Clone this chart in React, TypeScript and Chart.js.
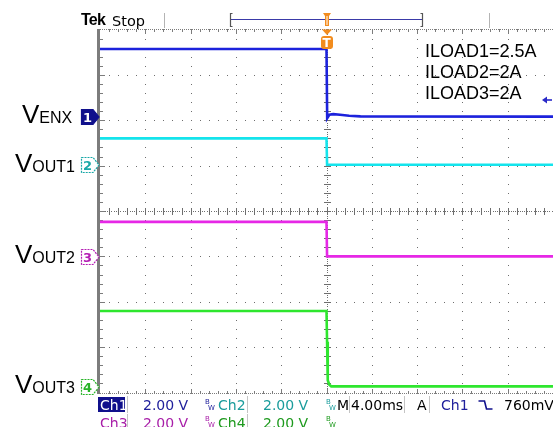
import React, { useEffect, useRef } from "react";
import { Chart, registerables } from "chart.js";

Chart.register(...registerables);

// ---- scope settings ----
const msPerDiv = 4;
const divsX = 10;
const divsY = 8;
const voltsPerDiv = 2;
const timeMin = -(divsX / 2) * msPerDiv;
const timeMax = (divsX / 2) * msPerDiv;

// channel ground levels (divisions above bottom of screen)
const ch1Ground = 6.07;
const ch2Ground = 5.0;
const ch3Ground = 3.0;
const ch4Ground = 0.12;

// ---- waveform data (time in ms, value in volts) ----
const ch1Time = [-20, 0, 0.06, 0.25, 0.6, 1.2, 2.0, 3.0, 20];
const ch1Volts = [3.0, 3.0, -0.05, 0.1, 0.13, 0.1, 0.06, 0.03, 0.02];

const ch2Time = [-20, 0, 0.05, 20];
const ch2Volts = [1.2, 1.2, 0.04, 0.04];

const ch3Time = [-20, 0, 0.05, 20];
const ch3Volts = [1.52, 1.52, 0.0, 0.0];

const ch4Time = [-20, 0, 0.05, 0.11, 0.25, 0.42, 20];
const ch4Volts = [3.35, 3.35, 2.0, 0.3, 0.1, 0.03, 0.03];

const loadLabels = ["ILOAD1=2.5A", "ILOAD2=2A", "ILOAD3=2A"];

const CH1 = "#1c22dc";
const CH2 = "#14e4ec";
const CH3 = "#e628e6";
const CH4 = "#2ee62e";

const W = 553;
const H = 427;
const SANS = '"Liberation Sans", Arial, sans-serif';
const DJ = '"DejaVu Sans", sans-serif';

const graticule = {
  id: "graticule",
  beforeDatasetsDraw(chart: any) {
    const { ctx, chartArea: a, scales } = chart;
    const xs = scales.x;
    const minorX = (a.right - a.left) / (divsX * 5);
    const minorY = (a.bottom - a.top) / (divsY * 5);
    ctx.save();
    ctx.fillStyle = "#6e6e6e";
    // vertical major lines (dotted)
    for (let i = 1; i < divsX; i++) {
      const X = Math.round(xs.getPixelForValue(timeMin + i * msPerDiv));
      if (i === divsX / 2) {
        for (let yy = a.top; yy < a.bottom; yy += 2.27) ctx.fillRect(X, Math.round(yy), 1, 1);
        for (let j = 1; j < divsY * 5; j++) {
          const Y = Math.round(a.top + j * minorY);
          ctx.fillRect(X - 3, Y, 7, 1);
        }
      } else {
        for (let j = 1; j < divsY * 5; j++) {
          const Y = Math.round(a.top + j * minorY);
          ctx.fillRect(X, Y, 1, 1);
        }
      }
    }
    // horizontal major lines
    for (let i = 1; i < divsY; i++) {
      const Y = Math.round(a.top + i * (a.bottom - a.top) / divsY);
      if (i === divsY / 2) {
        for (let xx = a.left; xx < a.right; xx += 2.27) ctx.fillRect(Math.round(xx), Y, 1, 1);
        for (let j = 1; j < divsX * 5; j++) {
          const X = Math.round(a.left + j * minorX);
          ctx.fillRect(X, Y - 3, 1, 7);
        }
      } else {
        for (let j = 1; j < divsX * 5; j++) {
          const X = Math.round(a.left + j * minorX);
          ctx.fillRect(X, Y, 1, 1);
        }
      }
    }
    // borders
    ctx.fillStyle = "#7c7c7c";
    ctx.fillRect(Math.round(a.left) - 3, Math.round(a.top) - 1, 3, Math.round(a.bottom - a.top) + 2);
    const T = Math.round(a.top);
    const B = Math.round(a.bottom);
    for (let xx = a.left; xx < a.right; xx += 2) {
      ctx.fillRect(Math.round(xx), T - 1, 1, 1);
      ctx.fillRect(Math.round(xx), B, 1, 1);
    }
    for (let j = 1; j < divsX * 5; j++) {
      const X = Math.round(a.left + j * minorX);
      const len = j % 5 === 0 ? 5 : 3;
      ctx.fillRect(X, T - 1, 1, len);
      ctx.fillRect(X, B - len + 1, 1, len);
    }
    for (let j = 1; j < divsY * 5; j++) {
      const Y = Math.round(a.top + j * minorY);
      const len = j % 5 === 0 ? 5 : 3;
      ctx.fillRect(Math.round(a.left), Y, len, 1);
    }
    ctx.restore();
  },
};

function toPoints(times: number[], volts: number[], ground: number) {
  return times.map((t, i) => ({ x: t, y: ground + volts[i] / voltsPerDiv }));
}

function Txt(props: {
  x: number;
  base: number;
  size: number;
  color?: string;
  family?: string;
  weight?: any;
  children: any;
  style?: any;
}) {
  const { x, base, size, color = "#000", family = SANS, weight = "normal", children, style = {} } = props;
  return (
    <div
      style={{
        position: "absolute",
        left: x,
        top: base - 0.8465 * size,
        fontSize: size,
        lineHeight: `${size}px`,
        fontFamily: family,
        fontWeight: weight,
        color,
        whiteSpace: "nowrap",
        ...style,
      }}
    >
      {children}
    </div>
  );
}

function ChanLabel(props: { x: number; base: number; sub: string }) {
  return (
    <Txt x={props.x} base={props.base} size={26}>
      V<span style={{ fontSize: 16 }}>{props.sub}</span>
    </Txt>
  );
}

function Marker(props: { cy: number; n: string; color: string; filled?: boolean }) {
  const { cy, n, color, filled } = props;
  const pts = `81.5,${cy - 7.5} 93,${cy - 7.5} 99,${cy} 93,${cy + 7.5} 81.5,${cy + 7.5}`;
  return (
    <svg style={{ position: "absolute", left: 0, top: 0 }} width={W} height={H}>
      <polygon
        points={pts}
        fill={filled ? color : "#fff"}
        stroke={color}
        strokeWidth={1.2}
        strokeDasharray={filled ? undefined : "2 1"}
      />
      <text
        x={87.5}
        y={cy + 5}
        textAnchor="middle"
        fontFamily={DJ}
        fontWeight="bold"
        fontSize={13}
        fill={filled ? "#fff" : color}
      >
        {n}
      </text>
    </svg>
  );
}

function BW(props: { x: number; top: number; color: string }) {
  return (
    <div style={{ position: "absolute", left: props.x, top: props.top, width: 10, height: 14, color: props.color, fontFamily: DJ, fontSize: 7, lineHeight: "7px" }}>
      <div style={{ position: "absolute", left: 0, top: 1 }}>B</div>
      <div style={{ position: "absolute", left: 3, top: 7 }}>W</div>
    </div>
  );
}

export default function App() {
  const ref = useRef<HTMLCanvasElement | null>(null);

  useEffect(() => {
    document.body.style.margin = "0";
    const canvas = ref.current;
    if (!canvas) return;
    const mk = (data: any, color: string) => ({
      data,
      borderColor: color,
      borderWidth: 2.6,
      pointRadius: 0,
      tension: 0,
      fill: false,
    });
    const chart = new Chart(canvas, {
      type: "line",
      data: {
        datasets: [
          mk(toPoints(ch4Time, ch4Volts, ch4Ground), CH4),
          mk(toPoints(ch3Time, ch3Volts, ch3Ground), CH3),
          mk(toPoints(ch2Time, ch2Volts, ch2Ground), CH2),
          mk(toPoints(ch1Time, ch1Volts, ch1Ground), CH1),
        ],
      },
      options: {
        responsive: false,
        animation: false,
        devicePixelRatio: 1,
        layout: { padding: { left: 100, top: 29.5, right: 0, bottom: 34.5 } },
        scales: {
          x: { type: "linear", min: timeMin, max: timeMax, display: false },
          y: { type: "linear", min: 0, max: divsY, display: false },
        },
        plugins: { legend: { display: false }, tooltip: { enabled: false } },
        elements: { line: { borderCapStyle: "butt", borderJoinStyle: "miter" } },
      },
      plugins: [graticule],
    });
    return () => chart.destroy();
  }, []);

  return (
    <div style={{ position: "relative", width: W, height: H, background: "#fff", overflow: "hidden" }}>
      <canvas ref={ref} width={W} height={H} style={{ position: "absolute", left: 0, top: 0, display: "block" }} />

      {/* top status bar */}
      <Txt x={81} base={26} size={16} weight="bold" style={{ letterSpacing: -0.8 }}>Tek</Txt>
      <Txt x={112} base={26} size={14.5} family={DJ}>Stop</Txt>
      <svg style={{ position: "absolute", left: 0, top: 0 }} width={W} height={H}>
        <line x1={164.5} y1={13} x2={164.5} y2={28} stroke="#b4b4b4" strokeWidth={1} />
        <line x1={489.5} y1={13} x2={489.5} y2={28} stroke="#b4b4b4" strokeWidth={1} />
        <line x1={230} y1={19.5} x2={423} y2={19.5} stroke="#3a3aa8" strokeWidth={1.2} />
        <polyline points="232.5,13.5 230.5,13.5 230.5,26.5 232.5,26.5" fill="none" stroke="#555" strokeWidth={1.2} />
        <polyline points="420.5,13.5 422.5,13.5 422.5,26.5 420.5,26.5" fill="none" stroke="#555" strokeWidth={1.2} />
        <polygon points="323,13 331,13 329,16 329,26 325,26 325,16" fill="#f28c1e" />
        <line x1={327} y1={16} x2={327} y2={25} stroke="#fff" strokeWidth={1} />
        {/* trigger position marker */}
        <polygon points="322,29.5 332,29.5 327,35" fill="#f28c1e" />
        <rect x={321} y={36} width={12} height={13} rx={3} fill="#f28c1e" />
        {/* trigger level arrow */}
        <polygon points="542,100 547,96.5 547,103.5" fill="#2a2ac8" />
        <line x1={546} y1={100} x2={552} y2={100} stroke="#2a2ac8" strokeWidth={1.6} />
      </svg>
      <Txt x={322.5} base={47} size={12} weight="bold" color="#fff" family={DJ}>T</Txt>

      {/* load annotations */}
      {loadLabels.map((s, i) => (
        <Txt key={s} x={425} base={57 + i * 21} size={18}>{s}</Txt>
      ))}

      {/* channel labels */}
      <ChanLabel x={22} base={123} sub="ENX" />
      <ChanLabel x={15} base={172} sub="OUT1" />
      <ChanLabel x={15} base={263} sub="OUT2" />
      <ChanLabel x={15} base={393} sub="OUT3" />
      <Marker cy={117} n="1" color="#10108c" filled />
      <Marker cy={165} n="2" color="#1aa8a8" />
      <Marker cy={257} n="3" color="#b41eb4" />
      <Marker cy={387} n="4" color="#28b428" />

      {/* bottom status */}
      <svg style={{ position: "absolute", left: 0, top: 0 }} width={W} height={H}>
        <rect x={98} y={397} width={27} height={15} fill="#10108c" />
        {[127, 247, 349, 404, 429].map((x) => (
          <line key={x} x1={x + 0.5} y1={396} x2={x + 0.5} y2={413} stroke="#c4c4c4" strokeWidth={1} />
        ))}
        {[127, 247].map((x) => (
          <line key={"b" + x} x1={x + 0.5} y1={414} x2={x + 0.5} y2={427} stroke="#c4c4c4" strokeWidth={1} />
        ))}
        <polyline points="478.5,401 484.5,401 486.5,409 492.5,409" fill="none" stroke="#10108c" strokeWidth={1.6} />
      </svg>
      <Txt x={100} base={410} size={14} family={DJ} color="#fff">Ch1</Txt>
      <Txt x={143} base={410} size={14} family={DJ} color="#20209c">2.00 V</Txt>
      <BW x={205} top={398} color="#20209c" />
      <Txt x={218} base={410} size={14} family={DJ} color="#1a9c9c">Ch2</Txt>
      <Txt x={263} base={410} size={14} family={DJ} color="#1a9c9c">2.00 V</Txt>
      <BW x={326} top={398} color="#1a9c9c" />
      <Txt x={337} base={410} size={14} family={DJ}>M</Txt>
      <Txt x={351} base={410} size={14} family={DJ}>4.00ms</Txt>
      <Txt x={417} base={410} size={14} family={DJ}>A</Txt>
      <Txt x={441} base={410} size={14} family={DJ} color="#20209c">Ch1</Txt>
      <Txt x={504} base={410} size={14} family={DJ}>760mV</Txt>

      <Txt x={100} base={427.5} size={14} family={DJ} color="#a81ea8">Ch3</Txt>
      <Txt x={143} base={427.5} size={14} family={DJ} color="#a81ea8">2.00 V</Txt>
      <BW x={205} top={415} color="#a81ea8" />
      <Txt x={218} base={427.5} size={14} family={DJ} color="#1e9a1e">Ch4</Txt>
      <Txt x={263} base={427.5} size={14} family={DJ} color="#1e9a1e">2.00 V</Txt>
      <BW x={326} top={415} color="#1e9a1e" />
    </div>
  );
}
